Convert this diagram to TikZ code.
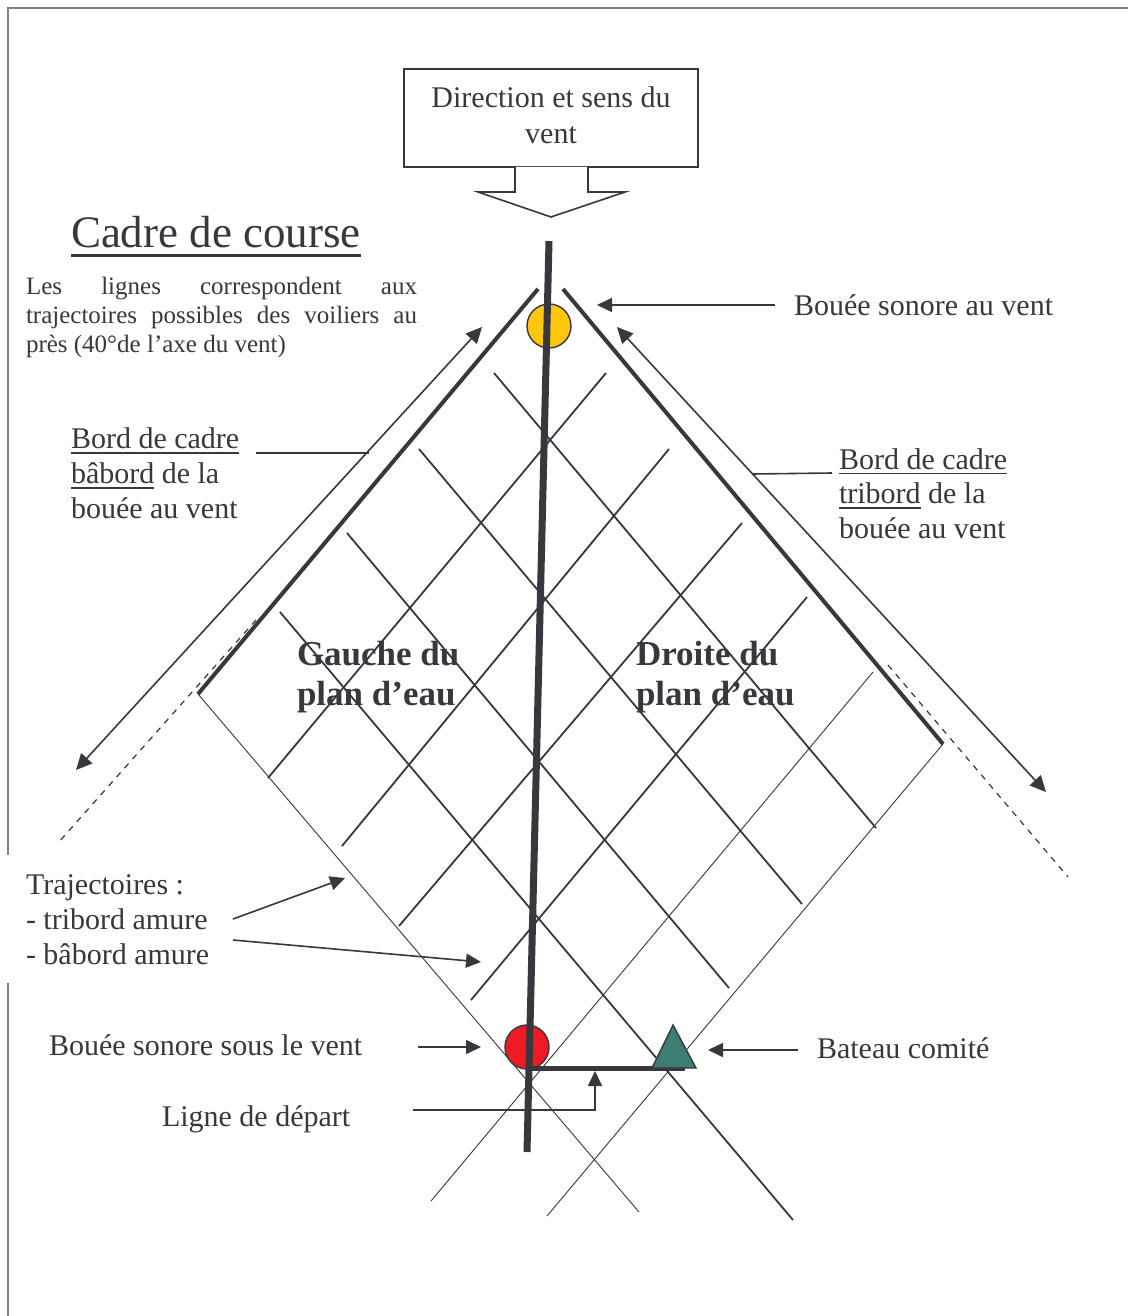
\documentclass[tikz,border=0pt]{standalone}
\usepackage{fontspec}
\setmainfont{Liberation Serif}
\usetikzlibrary{arrows.meta}
\definecolor{ink}{RGB}{56,55,61}
\definecolor{framecol}{RGB}{130,130,130}
\definecolor{buoyY}{RGB}{252,199,14}
\definecolor{buoyR}{RGB}{237,28,36}
\definecolor{boat}{RGB}{60,126,114}
\newcommand{\myuline}[3]{\setbox0=\hbox{#1}\rlap{\rule[#2]{\wd0}{#3}}\box0\relax}
\begin{document}
\begin{tikzpicture}[x=0.5pt,y=-0.5pt,
  every node/.style={inner sep=0pt, outer sep=0pt, text=ink},
  gridline/.style={draw=ink, line width=0.9pt},
  thinline/.style={draw=ink, line width=0.45pt},
  bordline/.style={draw=ink, line width=2pt},
  outerarrow/.style={draw=ink, line width=0.8pt, {Triangle[length=8pt,width=7.5pt]}-{Triangle[length=8pt,width=7.5pt]}},
  ptr/.style={draw=ink, line width=0.8pt, -{Triangle[length=7.5pt,width=7pt]}},
  plainptr/.style={draw=ink, line width=0.8pt},
  dashline/.style={draw=ink, line width=0.6pt, dash pattern=on 3pt off 3pt},
  lbl/.style={anchor=base west, align=left, font=\fontsize{15}{17.4}\selectfont},
  bigbold/.style={anchor=base west, align=left, font=\fontsize{17.5}{20}\selectfont\bfseries},
  buoy/.style={circle, draw=ink, line width=0.7pt, minimum size=22pt}
]
\useasboundingbox (0,0) rectangle (1128,1316);
\fill[white] (0,0) rectangle (1128,1316);
% page frame
\draw[framecol, line width=0.8pt] (8,1316) -- (8,8) -- (1128,8);

% grid lines "\"
\draw[gridline] (494,373) -- (876,828);
\draw[gridline] (419,449) -- (802,904);
\draw[gridline] (347,533) -- (729,988);
\draw[gridline] (280,612) -- (793,1220);
\draw[thinline] (198,694) -- (639,1212);
% grid lines "/"
\draw[gridline] (606,373) -- (268,778);
\draw[gridline] (669,449) -- (342,846);
\draw[gridline] (742,523) -- (399,926);
\draw[gridline] (807,597) -- (471,1000);
\draw[thinline] (873,672) -- (431,1201);
\draw[thinline] (943,744) -- (547,1216);

% borders of the course frame
\draw[bordline] (538,289) -- (198,694);
\draw[bordline] (563,289) -- (943,744);

% outer arrows
\draw[outerarrow] (482,327) -- (76,770);
\draw[outerarrow] (617,327) -- (1046,792);

% dashed extensions
\draw[dashline] (256,620) -- (58,843);
\draw[dashline] (888,665) -- (1068,877);

% buoys
\node[buoy, fill=buoyY] (bv) at (549,326) {};
\node[buoy, fill=buoyR] (bsv) at (527,1047) {};

% wind axis
\draw[ink, line width=3.5pt] (549,241) -- (527,1152);

% start line and committee boat
\coordinate (sla) at (527,1068);
\coordinate (slb) at (685,1068);
\draw[ink, line width=2.5pt] (sla) -- (slb);
\draw[ink, line width=0.7pt, fill=boat] (673,1025) -- (652,1068) -- (696,1068) -- cycle;

% wind box
\node[draw=ink, line width=0.8pt, minimum width=147pt, minimum height=49pt] (wind) at (551,118) {};
\draw[ink, line width=0.8pt, fill=white] (515,167) -- (515,192) -- (478,192) -- (551,217) -- (625,192) -- (588,192) -- (588,167);
\node[anchor=base, align=center, font=\fontsize{15}{18}\selectfont] (windtxt) at (551,144) {Direction et sens du\\vent};

% title and note
\node[anchor=base west, font=\fontsize{22.5}{27}\selectfont] (title) at (71,248) {\myuline{Cadre de course}{-4.6pt}{1.5pt}};
\node[anchor=base west, align=left, font=\fontsize{12.5}{14.3}\selectfont] (note) at (26,352)
  {\makebox[195.5pt][s]{Les lignes correspondent aux}\\\makebox[195.5pt][s]{trajectoires possibles des voiliers au}\\près (40°de l’axe du vent)};

% labels
\node[lbl] (tbv) at (794,315) {Bouée sonore au vent};
\coordinate (pbv1) at (775,305);
\coordinate (pbv2) at (597,305);
\draw[ptr] (pbv1) -- (pbv2);

\node[lbl, font=\fontsize{15}{17.3}\selectfont] (tbab) at (71,518) {\myuline{Bord de cadre}{-2.6pt}{0.8pt}\\\myuline{bâbord}{-2.6pt}{0.8pt} de la\\bouée au vent};
\coordinate (pbab1) at (256,453);
\coordinate (pbab2) at (369,453);
\draw[plainptr] (pbab1) -- (pbab2);

\node[lbl, font=\fontsize{15}{17.2}\selectfont] (ttrib) at (839,538) {\myuline{Bord de cadre}{-2.6pt}{0.8pt}\\\myuline{tribord}{-2.6pt}{0.8pt} de la\\bouée au vent};
\coordinate (ptrib1) at (832,473);
\coordinate (ptrib2) at (753,474);
\draw[plainptr] (ptrib1) -- (ptrib2);

\node[bigbold] (gauche) at (297,705) {Gauche du\\plan d’eau};
\node[bigbold] (droite) at (636,705) {Droite du\\plan d’eau};

\fill[white] (3,855) rectangle (222,983);
\node[lbl, font=\fontsize{15}{17.5}\selectfont] (ttraj) at (26,964) {Trajectoires :\\- tribord amure\\- bâbord amure};
\coordinate (ptr1a) at (233,919);
\coordinate (ptr1b) at (345,878);
\coordinate (ptr2a) at (233,940);
\coordinate (ptr2b) at (481,962);
\draw[ptr] (ptr1a) -- (ptr1b);
\draw[ptr] (ptr2a) -- (ptr2b);

\node[lbl] (tbsv) at (49,1055) {Bouée sonore sous le vent};
\coordinate (pbsv1) at (418,1047);
\coordinate (pbsv2) at (481,1047);
\draw[ptr] (pbsv1) -- (pbsv2);

\node[lbl] (tbat) at (817,1058) {Bateau comité};
\coordinate (pbat1) at (798,1050);
\coordinate (pbat2) at (708,1050);
\draw[ptr] (pbat1) -- (pbat2);

\node[lbl] (tlig) at (162,1126) {Ligne de départ};
\coordinate (plig1) at (413,1110);
\coordinate (plig2) at (595,1071);
\draw[ptr] (plig1) -| (plig2);
\end{tikzpicture}
\end{document}
